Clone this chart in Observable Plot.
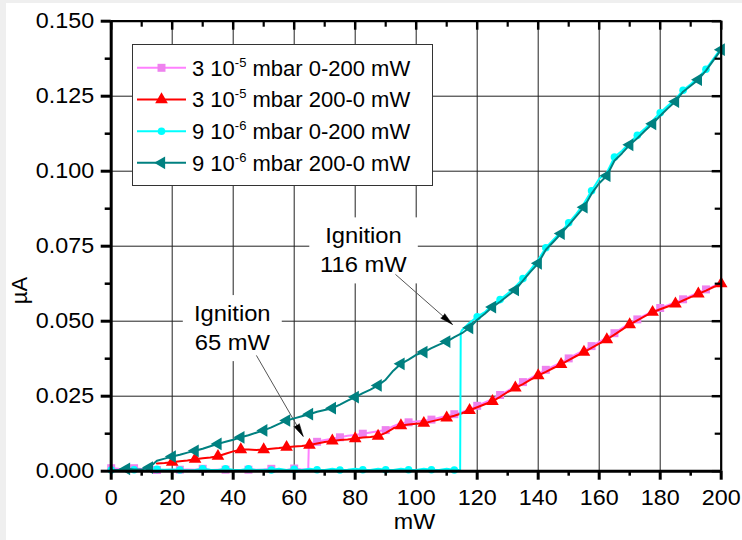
<!DOCTYPE html>
<html>
<head>
<meta charset="utf-8">
<script src="https://cdn.jsdelivr.net/npm/d3@7"></script>
<script src="https://cdn.jsdelivr.net/npm/@observablehq/plot@0.6"></script>
<style>
  html, body { margin:0; padding:0; }
  body { width:742px; height:540px; background:#efefef; overflow:hidden; font-family:"Liberation Sans", Arial, sans-serif; }
  #wrap { position:absolute; left:6px; top:3px; width:736px; height:537px; background:#fff; }
  #chart svg { position:absolute; left:0; top:0; }
  #legend { position:absolute; left:125.7px; top:41px; width:301.3px; height:142px; box-sizing:border-box; border:1.5px solid #333; background:#fff; }
  #legend svg { position:absolute; left:0; top:0; overflow:visible; }
</style>
</head>
<body>
<div id="wrap"><div id="chart"></div><div id="legend"></div></div>
<script>
// ---------------- data ----------------
const power = [0,2.5,5,7.5,10,12.5,15,17.5,20,22.5,25,27.5,30,32.5,35,37.5,40,42.5,45,47.5,
  50,52.5,55,57.5,60,62.5,65,67.5,70,72.5,75,77.5,80,82.5,85,87.5,90,92.5,95,97.5,
  100,102.5,105,107.5,110,112.5,115,117.5,120,122.5,125,127.5,130,132.5,135,137.5,140,142.5,145,147.5,
  150,152.5,155,157.5,160,162.5,165,167.5,170,172.5,175,177.5,180,182.5,185,187.5,190,192.5,195,197.5,200];

// 3 10^-5 mbar, 0-200 mW (pink)
const pinkUp = [0.0010,0.0008,0.0007,0.0010,0.0007,0.0005,0.0004,0.0004,0.0005,0.0005,
  0.0006,0.0005,0.0008,0.0004,0.0005,0.0005,0.0004,0.0004,0.0005,0.0005,
  0.0006,0.0008,0.0005,0.0004,0.0009,0.0006,
  0.0092,0.0098,0.0104,0.0108,0.0113,0.0118,0.0121,0.0125,0.0129,0.0133,
  0.0137,0.0150,0.0160,0.0163,0.0166,0.0168,0.0172,0.0178,0.0184,0.0190,
  0.0197,0.0207,0.0218,0.0229,0.0240,0.0254,0.0268,0.0283,0.0297,0.0310,
  0.0324,0.0338,0.0350,0.0362,0.0376,0.0390,0.0403,0.0417,0.0431,0.0445,
  0.0460,0.0477,0.0493,0.0506,0.0520,0.0533,0.0544,0.0553,0.0563,0.0573,
  0.0584,0.0595,0.0606,0.0617,0.0628];
const pinkJump = [[64.6,0.0006],[64.8,0.0090]];

// 3 10^-5 mbar, 200-0 mW (red)
const redDown = [null,null,null,null,null,null,
  0.0026,0.0027,0.0030,0.0033,0.0036,0.0040,0.0043,0.0046,0.0050,0.0058,
  0.0066,0.0072,0.0072,0.0071,0.0072,0.0075,0.0077,0.0080,0.0082,0.0084,
  0.0087,0.0092,0.0097,0.0101,0.0104,0.0106,0.0109,0.0112,0.0114,0.0117,
  0.0128,0.0143,0.0152,0.0156,0.0158,0.0160,0.0166,0.0172,0.0178,0.0185,
  0.0193,0.0203,0.0213,0.0223,0.0233,0.0248,0.0264,0.0278,0.0290,0.0305,
  0.0319,0.0331,0.0344,0.0356,0.0370,0.0384,0.0397,0.0411,0.0425,0.0439,
  0.0455,0.0472,0.0489,0.0503,0.0517,0.0530,0.0540,0.0549,0.0558,0.0569,
  0.0580,0.0591,0.0602,0.0614,0.0625];

// 9 10^-6 mbar, 0-200 mW (cyan)
const cyanUp = [0.0004,0.0004,0.0003,0.0005,0.0004,0.0003,0.0006,0.0005,0.0006,0.0004,
  0.0003,0.0004,0.0008,0.0005,0.0004,0.0008,0.0005,0.0004,0.0008,0.0004,
  0.0005,0.0004,0.0008,0.0004,0.0006,0.0004,0.0008,0.0005,0.0004,0.0008,
  0.0004,0.0005,0.0008,0.0005,0.0004,0.0008,0.0005,0.0004,0.0008,0.0005,
  0.0004,0.0008,0.0005,0.0004,0.0008,0.0004,
  0.0470,0.0495,0.0515,0.0530,0.0555,0.0572,0.0592,0.0615,0.0642,0.0672,
  0.0705,0.0745,0.0772,0.0798,0.0828,0.0858,0.0892,0.0935,0.0975,0.0995,
  0.1047,0.1068,0.1095,0.1120,0.1142,0.1168,0.1195,0.1218,0.1240,0.1270,
  0.1290,0.1312,0.1340,0.1375,0.1410];
const cyanJump = [[114.4,0.0004],[114.6,0.0462]];

// 9 10^-6 mbar, 200-0 mW (teal)
const tealDown = [0.0003,0.0005,0.0008,0.0006,0.0006,0.0012,0.0035,0.0042,0.0049,0.0055,
  0.0062,0.0068,0.0075,0.0083,0.0091,0.0098,0.0105,0.0113,0.0120,0.0128,
  0.0136,0.0146,0.0158,0.0169,0.0176,0.0183,0.0190,0.0198,0.0204,0.0210,
  0.0222,0.0235,0.0247,0.0260,0.0272,0.0286,0.0305,0.0335,0.0358,0.0372,
  0.0388,0.0397,0.0410,0.0422,0.0432,0.0447,0.0460,0.0478,0.0505,0.0525,
  0.0547,0.0565,0.0585,0.0604,0.0635,0.0665,0.0693,0.0738,0.0765,0.0792,
  0.0820,0.0850,0.0880,0.0925,0.0960,0.0985,0.1035,0.1060,0.1088,0.1110,
  0.1135,0.1158,0.1185,0.1210,0.1232,0.1265,0.1285,0.1305,0.1335,0.1370,
  0.1405];

// axes
const xDomain = [0, 200];
const yDomain = [0, 0.15];
const xMajor = [0,20,40,60,80,100,120,140,160,180,200];
const xMinor = [10,30,50,70,90,110,130,150,170,190];
const yMajor = [0,0.025,0.05,0.075,0.1,0.125,0.15];
const yMinor = [0.0125,0.0375,0.0625,0.0875,0.1125,0.1375];
const xLabel = "mW";
const yLabel = "µA";

// legend
const legendBase = ["3 10","3 10","9 10","9 10"];
const legendExp = ["-5","-5","-6","-6"];
const legendRest = [" mbar 0-200 mW"," mbar 200-0 mW"," mbar 0-200 mW"," mbar 200-0 mW"];

// annotations
const annoText = ["Ignition\n116 mW", "Ignition\n65 mW"];
const annoX = [82.7, 39.7];
const annoY = [0.0742, 0.0483];
const arrowFrom = [[93.2, 0.0656], [47.6, 0.0386]];
const arrowTo = [[111.9, 0.0489], [62.95, 0.0116]];

// ---------------- styles ----------------
const W = 736, H = 537;
const mL = 104.7, mR = 21.3, mT = 17.7, mB = 69.3;
const pw = W - mL - mR, ph = H - mT - mB;

const series = [
  {vals: pinkUp, jump: pinkJump, line: "#ff80ff", mark: "#ee82ee", symbol: "square", r: 4.5, rotate: 0, phase: 0},
  {vals: redDown, jump: [], line: "#ff0000", mark: "#ff0000", symbol: "triangle", r: 4.7, rotate: 0, phase: 2},
  {vals: cyanUp, jump: cyanJump, line: "#00ffff", mark: "#00ffff", symbol: "circle", r: 3.8, rotate: 0, phase: 0},
  {vals: tealDown, jump: [], line: "#008080", mark: "#008080", symbol: "triangle", r: 4.7, rotate: -90, phase: 2}
];

function rows(s) {
  const r = power.map((x, i) => ({x, y: s.vals[i], i})).filter(d => d.y != null);
  s.jump.forEach(([x, y]) => r.push({x, y, i: -1}));
  r.sort((a, b) => a.x - b.x);
  return r;
}

const kx = pw / (xDomain[1] - xDomain[0]);
const ky = ph / (yDomain[1] - yDomain[0]);
const arrows = arrowFrom.map((f, i) => {
  const t = arrowTo[i];
  const dx = (t[0] - f[0]) * kx, dy = -(t[1] - f[1]) * ky;
  return {x1: f[0], y1: f[1], x2: t[0], y2: t[1], angle: Math.atan2(dx, -dy) * 180 / Math.PI};
});
const annos = annoText.map((t, i) => ({t, x: annoX[i], y: annoY[i]}));

const marks = [
  Plot.gridX(xMajor, {stroke: "#222", strokeOpacity: 1, strokeWidth: 1}),
  Plot.gridY(yMajor, {stroke: "#222", strokeOpacity: 1, strokeWidth: 1}),
  Plot.text(annos, {x: "x", y: "y", text: "t", fontSize: 22, lineHeight: 1.32, lineAnchor: "middle", fill: "black"}),
  Plot.link(arrows, {x1: "x1", y1: "y1", x2: "x2", y2: "y2", stroke: "#555", strokeWidth: 1}),
  Plot.vector(arrows, {x: "x2", y: "y2", rotate: "angle", length: 13, shape: "spike", r: 3, anchor: "end", fill: "black", stroke: "black", strokeWidth: 0.5})
];
series.forEach(s => {
  const data = rows(s);
  marks.push(Plot.line(data, {x: "x", y: "y", stroke: s.line, strokeWidth: 2}));
  marks.push(Plot.dot(data.filter(d => d.i >= 0 && d.i % 3 === s.phase), {
    x: "x", y: "y", symbol: s.symbol, r: s.r, rotate: s.rotate, fill: s.mark, stroke: "none"
  }));
});
marks.push(
  Plot.ruleX([xDomain[0]], {stroke: "black", strokeWidth: 3}),
  Plot.ruleY([yDomain[0]], {stroke: "black", strokeWidth: 3}),
  Plot.ruleX([xDomain[1]], {stroke: "black", strokeWidth: 2.2}),
  Plot.ruleY([yDomain[1]], {stroke: "black", strokeWidth: 2.2}),
  Plot.axisX(xMajor, {anchor: "bottom", tickSize: 9, tickPadding: 9, strokeWidth: 3, tickFormat: d => String(d), label: null, fontSize: 22}),
  Plot.axisX(xMinor, {anchor: "bottom", tickSize: 5, strokeWidth: 2.5, tickFormat: () => "", label: null}),
  Plot.axisY(yMajor, {anchor: "left", tickSize: 10, tickPadding: 7, strokeWidth: 3, tickFormat: d3.format(".3f"), label: null, fontSize: 22}),
  Plot.axisY(yMinor, {anchor: "left", tickSize: 6, strokeWidth: 2.5, tickFormat: () => "", label: null}),
  Plot.tickX(xMajor, {x: d => d, insetBottom: ph - 9, stroke: "black", strokeWidth: 2.5}),
  Plot.tickX(xMinor, {x: d => d, insetBottom: ph - 6, stroke: "black", strokeWidth: 2.2}),
  Plot.tickY(yMajor, {y: d => d, insetLeft: pw - 9, stroke: "black", strokeWidth: 2.5}),
  Plot.tickY(yMinor, {y: d => d, insetLeft: pw - 6, stroke: "black", strokeWidth: 2.2}),
  Plot.text([xLabel], {frameAnchor: "bottom", dy: 50.3, dx: -1.7, lineAnchor: "middle", fontSize: 22, fill: "black"}),
  Plot.text([yLabel], {frameAnchor: "left", dx: -91.5, dy: 58, rotate: -90, lineAnchor: "middle", fontSize: 22, fill: "black"})
);

const svg = Plot.plot({
  width: W, height: H,
  marginLeft: mL, marginRight: mR, marginTop: mT, marginBottom: mB,
  x: {domain: xDomain},
  y: {domain: yDomain},
  style: {fontFamily: "'Liberation Sans', Arial, sans-serif", fontSize: "22px", background: "transparent", color: "black", overflow: "visible"},
  marks
});
document.getElementById("chart").append(svg);

const NS = "http://www.w3.org/2000/svg";
// slight horizontal widening of the glyphs, as in the reference
function stretch(t, s) {
  const b = t.getBBox();
  const anchor = getComputedStyle(t).textAnchor;
  const ox = anchor === "end" ? b.x + b.width : anchor === "middle" ? b.x + b.width / 2 : b.x;
  const tr = t.getAttribute("transform") || "";
  t.setAttribute("transform", `${tr} translate(${ox},0) scale(${s},1) translate(${-ox},0)`);
}
svg.querySelectorAll("text").forEach(t => {
  const txt = t.textContent;
  if (txt.startsWith("Ignition")) {
    const b = t.getBBox();
    const r = document.createElementNS(NS, "rect");
    r.setAttribute("x", b.x - 14);
    r.setAttribute("y", b.y - 6);
    r.setAttribute("width", b.width + 28);
    r.setAttribute("height", b.height + 12);
    r.setAttribute("fill", "white");
    const tr = t.getAttribute("transform");
    if (tr) r.setAttribute("transform", tr);
    t.parentNode.insertBefore(r, t);
    stretch(t, 1.08);
  } else if (txt !== yLabel && txt !== "") {
    stretch(t, 1.06);
  }
});

// legend
const lg = d3.select("#legend").append("svg").attr("width", 298).attr("height", 139);
const rowY = [22.8, 54.5, 86.2, 117.8];
series.forEach((s, i) => {
  const y = rowY[i];
  lg.append("line").attr("x1", 4).attr("x2", 53).attr("y1", y).attr("y2", y)
    .attr("stroke", s.line).attr("stroke-width", 2);
  const sym = {square: d3.symbolSquare, triangle: d3.symbolTriangle, circle: d3.symbolCircle}[s.symbol];
  lg.append("path").attr("d", d3.symbol(sym, Math.PI * s.r * s.r)())
    .attr("transform", `translate(28.5,${y}) rotate(${s.rotate})`).attr("fill", s.mark);
  const tx = lg.append("text").attr("x", 59).attr("y", y).attr("dy", "0.36em")
    .attr("font-size", 22).attr("fill", "black");
  tx.append("tspan").text(legendBase[i]);
  tx.append("tspan").attr("dy", -9).attr("font-size", 13).text(legendExp[i]);
  tx.append("tspan").attr("dy", 9).text(legendRest[i]);
});
</script>
</body>
</html>
